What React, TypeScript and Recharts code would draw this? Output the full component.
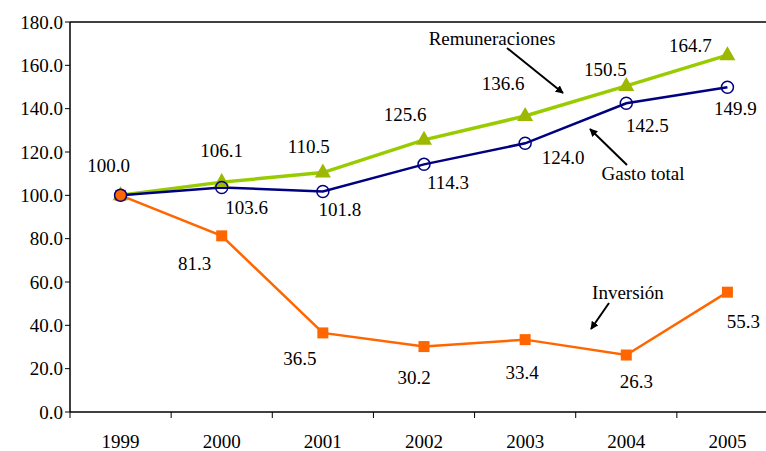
import { LineChart, Line, XAxis, YAxis, ReferenceLine, LabelList } from "recharts";

const years = ["1999", "2000", "2001", "2002", "2003", "2004", "2005"];
const remuneraciones = [100.0, 106.1, 110.5, 125.6, 136.6, 150.5, 164.7];
const gastoTotal = [100.0, 103.6, 101.8, 114.3, 124.0, 142.5, 149.9];
const inversion = [100.0, 81.3, 36.5, 30.2, 33.4, 26.3, 55.3];
const yTicks = [0, 20, 40, 60, 80, 100, 120, 140, 160, 180];

// where each value label sits relative to its point (Excel placed them by hand)
const remOffsets = [[-12, -30], [0, -32], [-14, -26], [-19, -25], [-22, -33], [-21, -16], [-37, -10]];
const gastoOffsets = [null, [25, 20], [17, 18], [24, 18], [38, 14], [21, 22], [8, 21]];
const invOffsets = [null, [-27, 28], [-23, 26], [-10, 31], [-3, 33], [10, 26], [16, 29]];

const data = years.map((year, i) => ({
  year,
  rem: remuneraciones[i],
  gasto: gastoTotal[i],
  inv: inversion[i],
}));

const W = 800;
const H = 451;
const LEFT = 70;
const RIGHT = 22;
const BAND = (W - LEFT - RIGHT) / years.length;
const FONT = "'Liberation Serif', 'Times New Roman', serif";

function YearTick(props: any) {
  const { x, y, payload, index } = props;
  const last = index === years.length - 1;
  return (
    <g>
      <line x1={x - BAND / 2} x2={x - BAND / 2} y1={y} y2={y + 6} stroke="#000" />
      {last && <line x1={x + BAND / 2} x2={x + BAND / 2} y1={y} y2={y + 6} stroke="#000" />}
      <text x={x} y={y + 29} textAnchor="middle" dominantBaseline="central" fontSize={19} fill="#000" fontFamily={FONT}>
        {payload.value}
      </text>
    </g>
  );
}

function makeLabel(offsets: (number[] | null)[]) {
  return (props: any) => {
    const { x, y, value, index } = props;
    const off = offsets[index];
    if (!off) return null;
    return (
      <text x={x + off[0]} y={y + off[1]} textAnchor="middle" dominantBaseline="central" fontSize={19} fill="#000" fontFamily={FONT}>
        {Number(value).toFixed(1)}
      </text>
    );
  };
}

const triangleDot = (p: any) => (
  <path key={`t-${p.index}`} d={`M${p.cx},${p.cy - 9} L${p.cx + 8},${p.cy + 5} L${p.cx - 8},${p.cy + 5} Z`} fill="#9DB800" />
);
const squareDot = (p: any) => (
  <rect key={`s-${p.index}`} x={p.cx - 5.5} y={p.cy - 5.5} width={11} height={11} fill="#FF6600" />
);
const circleDot = (p: any) => (
  <circle key={`c-${p.index}`} cx={p.cx} cy={p.cy} r={6} fill="none" stroke="#000080" strokeWidth={1.5} />
);

function Notes() {
  const txt = { fontSize: 19, fill: "#000", fontFamily: FONT, textAnchor: "middle" as const, dominantBaseline: "central" as const };
  return (
    <svg width={766} height={451} style={{ position: "absolute", left: 0, top: 0, pointerEvents: "none" }}>
      <defs>
        <marker id="ah" viewBox="0 0 10 10" refX="9" refY="5" markerWidth="4" markerHeight="4" orient="auto">
          <path d="M0,0 L10,5 L0,10 Z" fill="#000" />
        </marker>
      </defs>
      <text x={492} y={38} {...txt}>Remuneraciones</text>
      <line x1={507} y1={48} x2={563} y2={93} stroke="#000" strokeWidth={2} markerEnd="url(#ah)" />
      <text x={643} y={173} {...txt}>Gasto total</text>
      <line x1={627} y1={165} x2={590} y2={129} stroke="#000" strokeWidth={2} markerEnd="url(#ah)" />
      <text x={628} y={292} {...txt}>Inversión</text>
      <line x1={609} y1={303} x2={591} y2={329} stroke="#000" strokeWidth={2} markerEnd="url(#ah)" />
    </svg>
  );
}

export default function App() {
  return (
    <div style={{ position: "fixed", left: 0, top: 0, width: 766, height: 451, overflow: "hidden", background: "#fff" }}>
      <LineChart width={W} height={H} data={data} margin={{ top: 22, right: RIGHT, bottom: 0, left: 0 }}>
        <XAxis
          dataKey="year"
          height={39}
          padding={{ left: BAND / 2, right: BAND / 2 }}
          tick={<YearTick />}
          tickLine={false}
          tickSize={0}
          tickMargin={0}
          axisLine={{ stroke: "#000", strokeWidth: 1.5 }}
          interval={0}
        />
        <YAxis
          width={LEFT}
          domain={[0, 180]}
          ticks={yTicks}
          tickFormatter={(v: number) => v.toFixed(1)}
          tick={{ fill: "#000", fontSize: 19, fontFamily: FONT }}
          tickSize={5}
          tickMargin={2}
          tickLine={{ stroke: "#000" }}
          axisLine={{ stroke: "#000", strokeWidth: 1.5 }}
        />
        <ReferenceLine y={180} stroke="#000" strokeWidth={1.5} />
        <Line dataKey="rem" stroke="#99CC00" strokeWidth={3.5} dot={triangleDot} isAnimationActive={false}>
          <LabelList dataKey="rem" content={makeLabel(remOffsets)} />
        </Line>
        <Line dataKey="inv" stroke="#FF6600" strokeWidth={2.5} dot={squareDot} isAnimationActive={false}>
          <LabelList dataKey="inv" content={makeLabel(invOffsets)} />
        </Line>
        <Line dataKey="gasto" stroke="#000080" strokeWidth={2.5} dot={circleDot} isAnimationActive={false}>
          <LabelList dataKey="gasto" content={makeLabel(gastoOffsets)} />
        </Line>
      </LineChart>
      <Notes />
    </div>
  );
}
